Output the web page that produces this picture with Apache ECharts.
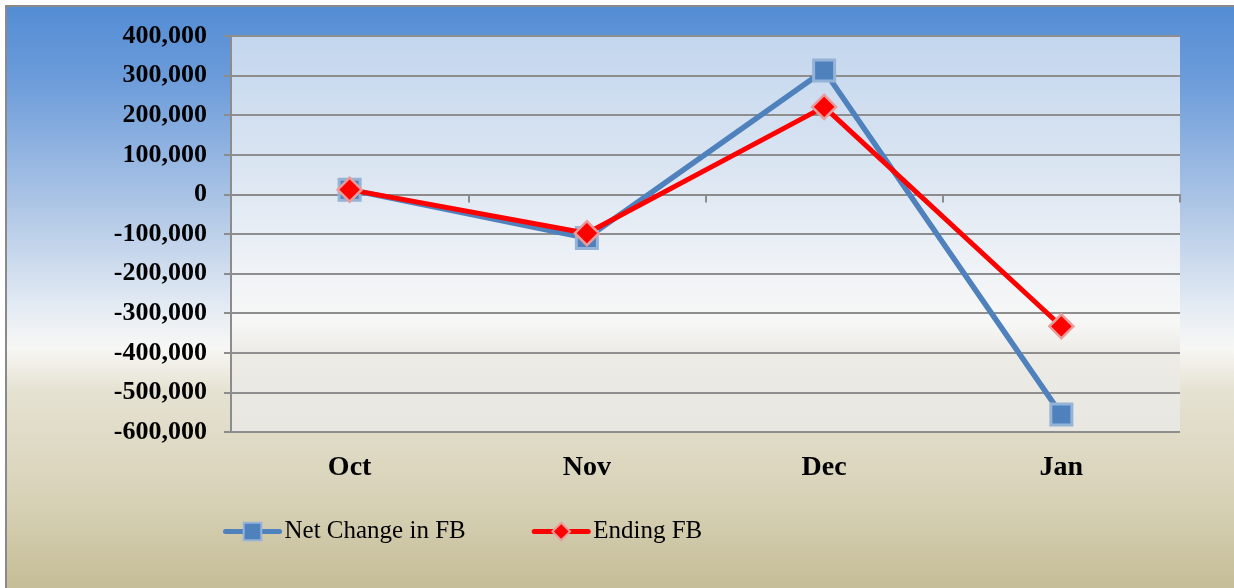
<!DOCTYPE html>
<html>
<head>
<meta charset="utf-8">
<script src="https://cdn.jsdelivr.net/npm/echarts@6/dist/echarts.min.js"></script>
<style>
html,body{margin:0;padding:0;background:#fff;}
#chart{width:1234px;height:588px;}
</style>
</head>
<body>
<div id="chart"></div>
<script>
const categories = ['Oct', 'Nov', 'Dec', 'Jan'];
const netChange = [12000, -110000, 313000, -556000];
const endingFB = [12000, -98000, 221000, -333000];
const seriesNames = ['Net Change in FB', 'Ending FB'];
const yMin = -600000, yMax = 400000, yStep = 100000;

const chart = echarts.init(document.getElementById('chart'), null, {renderer: 'canvas'});
const serif = '"Liberation Serif", "Times New Roman", serif';

const option = {
  backgroundColor: '#ffffff',
  animation: false,
  graphic: [{
    type: 'rect',
    z: -10,
    silent: true,
    shape: {x: 6, y: 6, width: 1260, height: 620},
    style: {
      fill: {
        type: 'linear', x: 0, y: 0, x2: 0, y2: 1, global: false,
        colorStops: [
          {offset: 0, color: '#538CD4'},
          {offset: 0.12, color: '#6C9CDA'},
          {offset: 0.33, color: '#B0C7E6'},
          {offset: 0.48, color: '#E2EAF3'},
          {offset: 0.55, color: '#F7F7F5'},
          {offset: 0.62, color: '#E6E2D2'},
          {offset: 0.8, color: '#D7D1B6'},
          {offset: 0.93, color: '#C6BE98'}
        ]
      },
      stroke: '#8A8A8A',
      lineWidth: 2
    }
  }],
  grid: {
    left: 231, right: 54, top: 36, bottom: 156,
    show: true,
    borderWidth: 0,
    backgroundColor: {
      type: 'linear', x: 0, y: 0, x2: 0, y2: 1,
      colorStops: [
        {offset: 0, color: '#C3D6EE'},
        {offset: 0.35, color: '#DCE6F2'},
        {offset: 0.6, color: '#F0F3F7'},
        {offset: 0.72, color: '#F7F7F6'},
        {offset: 0.8, color: '#ECEBE6'},
        {offset: 1, color: '#E8E6E0'}
      ]
    }
  },
  legend: {
    left: 218,
    top: 514,
    itemWidth: 54,
    itemHeight: 22,
    itemGap: 66,
    textStyle: {fontFamily: serif, fontSize: 25, color: '#000'},
    lineStyle: {width: 5, cap: 'round'},
    data: seriesNames
  },
  xAxis: [{
    type: 'category',
    data: categories,
    position: 'bottom',
    boundaryGap: true,
    axisLine: {onZero: true, lineStyle: {color: '#8C8C8C', width: 2}},
    axisTick: {show: true, length: 8, inside: false, lineStyle: {color: '#8C8C8C', width: 2}},
    axisLabel: {show: false},
    splitLine: {show: false}
  }, {
    type: 'category',
    data: categories,
    position: 'bottom',
    boundaryGap: true,
    axisLine: {show: false, onZero: false},
    axisTick: {show: false},
    axisLabel: {show: true, margin: 22, fontFamily: serif, fontSize: 28, fontWeight: 'bold', color: '#000'},
    splitLine: {show: false}
  }],
  yAxis: {
    type: 'value',
    min: yMin, max: yMax, interval: yStep,
    axisLine: {show: true, lineStyle: {color: '#8C8C8C', width: 2}},
    axisTick: {show: true, length: 7, lineStyle: {color: '#8C8C8C', width: 2}},
    axisLabel: {
      margin: 24,
      fontFamily: serif, fontSize: 26, fontWeight: 'bold', color: '#000',
      formatter: v => v.toLocaleString('en-US')
    },
    splitLine: {show: true, lineStyle: {color: '#8E8E8E', width: 2}}
  },
  series: [{
    name: seriesNames[0],
    type: 'line',
    data: netChange,
    xAxisIndex: 0,
    symbol: 'rect',
    symbolSize: 21,
    lineStyle: {color: '#4F81BD', width: 5.5},
    itemStyle: {color: '#4F81BD', borderColor: '#95B3D7', borderWidth: 3},
    z: 3
  }, {
    name: seriesNames[1],
    type: 'line',
    data: endingFB,
    xAxisIndex: 0,
    symbol: 'diamond',
    symbolSize: 24,
    lineStyle: {color: '#FF0000', width: 5},
    itemStyle: {color: '#FF0000', borderColor: '#E89C9C', borderWidth: 2.5},
    z: 4
  }]
};
chart.setOption(option);
</script>
</body>
</html>
